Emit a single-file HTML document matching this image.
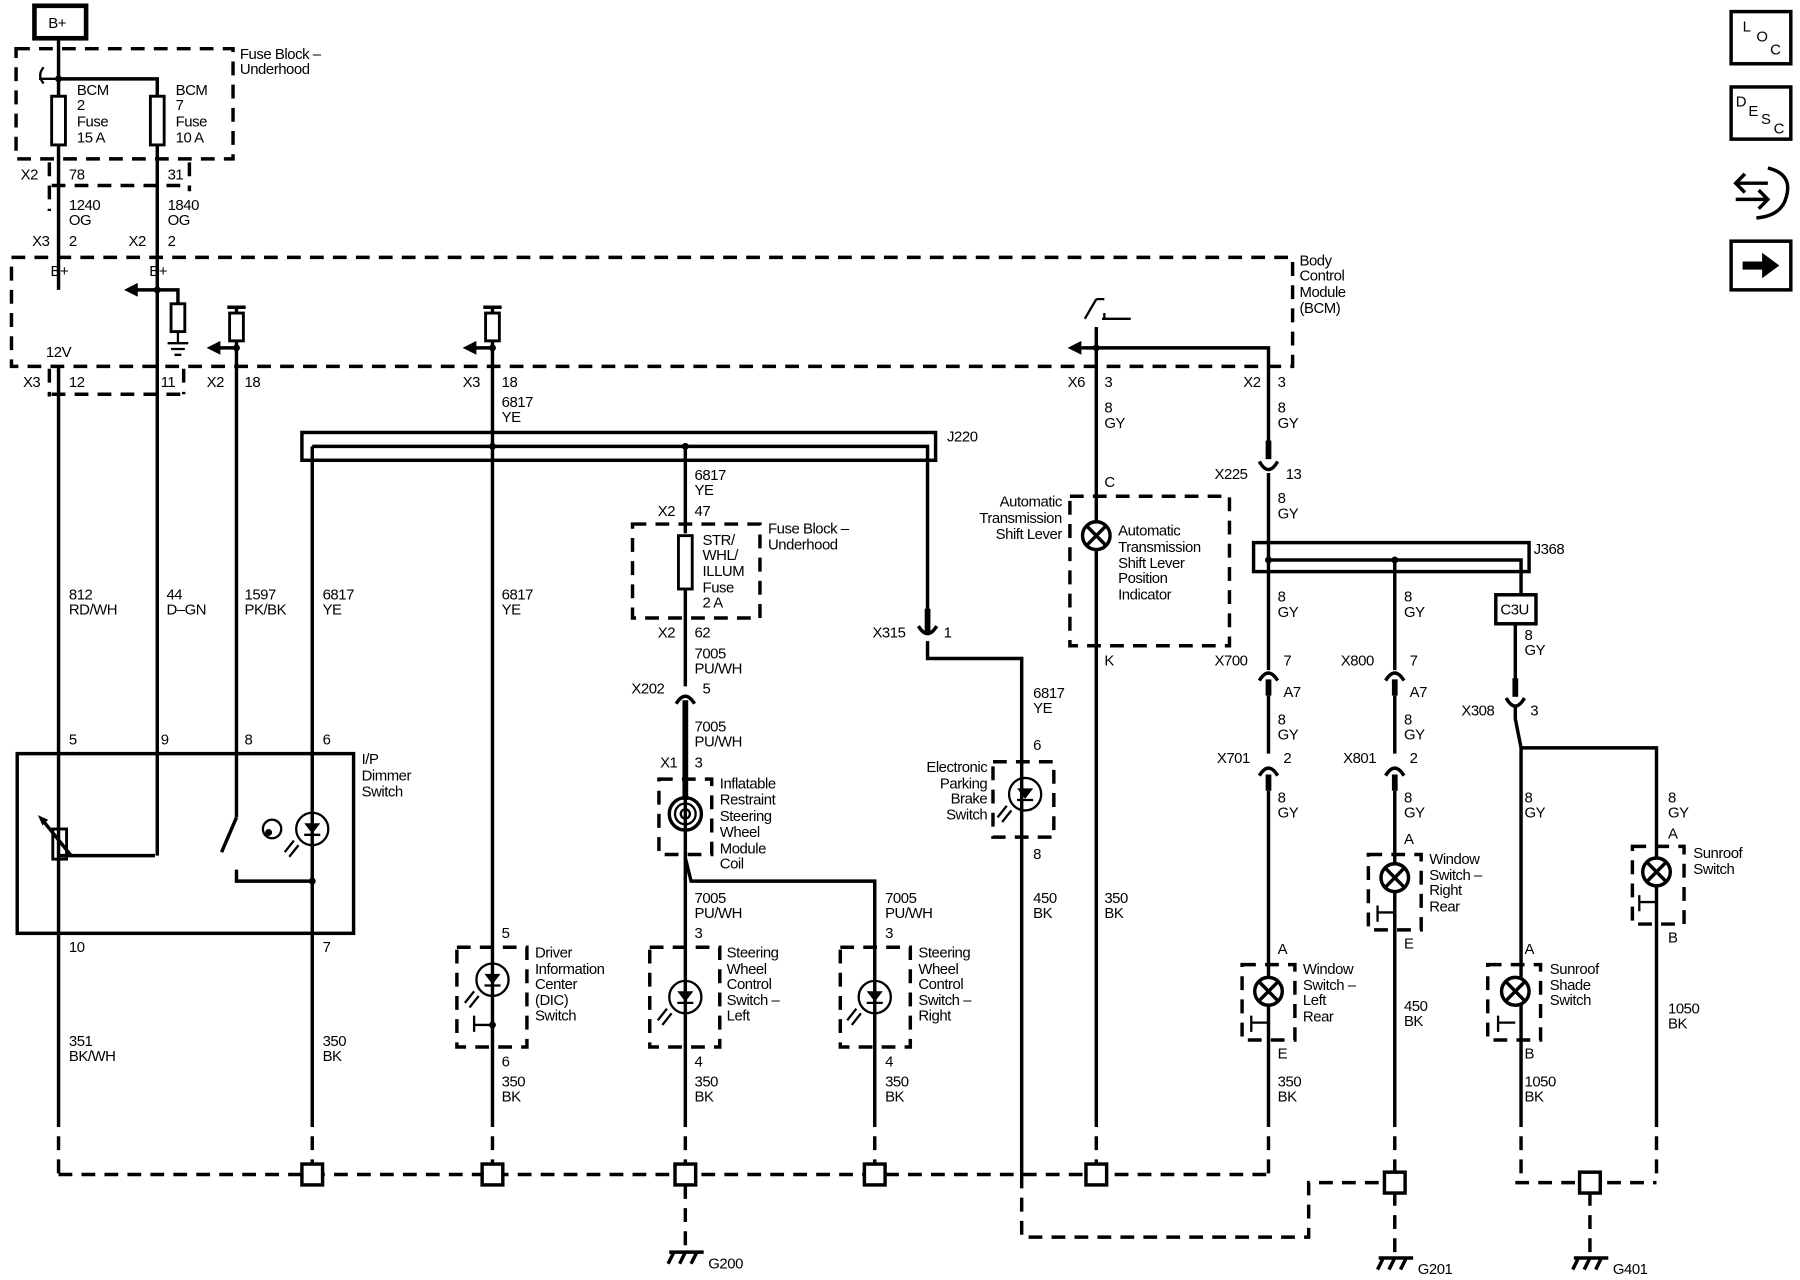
<!DOCTYPE html>
<html><head><meta charset="utf-8"><style>
html,body{margin:0;padding:0;background:#fff;}
svg{display:block;}
text{font-family:"Liberation Sans",sans-serif;font-size:13px;fill:#000;letter-spacing:-0.4px;}
.w{stroke:#000;stroke-width:3;fill:none;}
.d{stroke:#000;stroke-width:3;fill:none;stroke-dasharray:12 8;}
.t{stroke:#000;stroke-width:2;fill:none;}
.f{fill:#fff;stroke:#000;stroke-width:2.5;}
</style></head><body>
<svg width="1800" height="1280" viewBox="0 0 1568 1104" preserveAspectRatio="none" xmlns="http://www.w3.org/2000/svg">
<defs>
<g id="led"><circle cx="0" cy="0" r="14" class="t" stroke-width="3"/><path d="M-7,-5 L7,-5 L0,4 Z" fill="#000"/><path d="M-7,5 H7" class="t"/><path d="M-16,10 L-24,20 M-12,14 L-20,24" class="t" stroke-width="1.5"/></g>
<g id="lamp"><circle cx="0" cy="0" r="12" fill="#fff" stroke="#000" stroke-width="3"/><path d="M-8,-8 L8,8 M8,-8 L-8,8" class="w"/></g>
<g id="gnd"><path d="M-14,0 H16 M-10,0 L-15,10 M0,0 L-5,10 M10,0 L5,10" class="w"/></g>
</defs>

<!-- B+ -->
<rect x="30" y="5" width="45" height="28" fill="#fff" stroke="#000" stroke-width="4"/>
<text x="42" y="24">B+</text>

<!-- Fuse block underhood -->
<rect x="14" y="42" width="189" height="95" class="d"/>
<text x="209" y="51">Fuse Block –</text><text x="209" y="64">Underhood</text>
<path d="M51,33 V250 M51,68 H137 V250" class="w"/>
<circle cx="51" cy="68" r="3"/>
<path d="M38,58 Q32,65 38,72 M34,68 H51" class="t"/>
<rect x="45" y="83" width="12" height="42" class="f"/>
<rect x="131" y="83" width="12" height="42" class="f"/>
<text x="67" y="82">BCM</text><text x="67" y="95">2</text><text x="67" y="109">Fuse</text><text x="67" y="123">15 A</text>
<text x="153" y="82">BCM</text><text x="153" y="95">7</text><text x="153" y="109">Fuse</text><text x="153" y="123">10 A</text>
<path d="M43,140 V182 M45,160 H165 M165,140 V165" class="d" stroke-dasharray="6 5"/>
<text x="18" y="155">X2</text><text x="60" y="155">78</text><text x="146" y="155">31</text>
<text x="60" y="181">1240</text><text x="60" y="194">OG</text>
<text x="146" y="181">1840</text><text x="146" y="194">OG</text>
<text x="28" y="212">X3</text><text x="60" y="212">2</text><text x="112" y="212">X2</text><text x="146" y="212">2</text>

<!-- BCM -->
<rect x="10" y="222" width="1116" height="94" class="d"/>
<text x="1132" y="229">Body</text><text x="1132" y="242">Control</text><text x="1132" y="256">Module</text><text x="1132" y="270">(BCM)</text>
<text x="44" y="238">B+</text><text x="130" y="238">B+</text>
<text x="40" y="308">12V</text>
<path d="M137,250 V738" class="w"/>
<path d="M137,250 H118 M137,250 H155 V262" class="w"/><path d="M108,250 L120,244 L120,256 Z"/>
<circle cx="137" cy="250" r="3"/>
<rect x="149" y="262" width="12" height="24" class="f"/>
<path d="M155,286 V296 M146,296 H164 M149,301 H161 M152,306 H158" class="t"/>
<!-- 206 -->
<path d="M198,265 H214 M206,265 V705" class="w"/>
<rect x="200" y="270" width="12" height="24" class="f"/>
<path d="M206,300 H190" class="w"/><path d="M180,300 L192,294 L192,306 Z"/><circle cx="206" cy="300" r="3"/>
<!-- 429 -->
<path d="M421,265 H437 M429,265 V1013" class="w"/>
<rect x="423" y="270" width="12" height="24" class="f"/>
<path d="M429,300 H413" class="w"/><path d="M403,300 L415,294 L415,306 Z"/><circle cx="429" cy="300" r="3"/>
<!-- 955 / 1105 -->
<path d="M955,258 L945,275 M955,258 H962 M962,275 V270 M960,275 H985" class="t"/>
<path d="M955,282 V1013 M955,300 H942 M955,300 H1105 V395" class="w"/>
<path d="M930,300 L942,294 L942,306 Z"/><circle cx="955" cy="300" r="3"/>

<!-- pin row -->
<path d="M43,318 V342 M45,340 H160 M160,318 V340" class="d" stroke-dasharray="6 5"/>
<path d="M51,316 V650" class="w"/>
<text x="20" y="334">X3</text><text x="60" y="334">12</text><text x="140" y="334">11</text>
<text x="180" y="334">X2</text><text x="213" y="334">18</text>
<text x="403" y="334">X3</text><text x="437" y="334">18</text>
<text x="437" y="351">6817</text><text x="437" y="364">YE</text>
<text x="930" y="334">X6</text><text x="962" y="334">3</text>
<text x="1083" y="334">X2</text><text x="1113" y="334">3</text>
<text x="962" y="356">8</text><text x="962" y="369">GY</text>
<text x="1113" y="356">8</text><text x="1113" y="369">GY</text>

<!-- J220 -->
<rect x="263" y="373" width="552" height="24" class="w"/>
<path d="M272,385 H808 V530 M272,385 V1013 M597,385 V460" class="w"/>
<circle cx="429" cy="385" r="3"/><circle cx="597" cy="385" r="3"/>
<text x="825" y="381">J220</text>

<text x="60" y="517">812</text><text x="60" y="530">RD/WH</text>
<text x="145" y="517">44</text><text x="145" y="530">D–GN</text>
<text x="213" y="517">1597</text><text x="213" y="530">PK/BK</text>
<text x="281" y="517">6817</text><text x="281" y="530">YE</text>
<text x="437" y="517">6817</text><text x="437" y="530">YE</text>

<!-- fuse STR -->
<text x="605" y="414">6817</text><text x="605" y="427">YE</text>
<text x="573" y="445">X2</text><text x="605" y="445">47</text>
<rect x="551" y="452" width="111" height="81" class="d"/>
<rect x="591" y="462" width="12" height="46" class="f"/>
<text x="612" y="470">STR/</text><text x="612" y="483">WHL/</text><text x="612" y="497">ILLUM</text><text x="612" y="511">Fuse</text><text x="612" y="524">2 A</text>
<text x="669" y="460">Fuse Block –</text><text x="669" y="474">Underhood</text>
<path d="M597,508 V592" class="w"/>
<text x="573" y="550">X2</text><text x="605" y="550">62</text>
<text x="605" y="568">7005</text><text x="605" y="581">PU/WH</text>
<text x="550" y="598">X202</text><text x="612" y="598">5</text>
<path d="M589,607 Q597,594 605,607" class="w"/><path d="M597,604 V690" stroke="#000" stroke-width="5"/>
<text x="605" y="631">7005</text><text x="605" y="644">PU/WH</text>
<text x="575" y="662">X1</text><text x="605" y="662">3</text>
<rect x="574" y="672" width="46" height="65" class="d" stroke-dasharray="9 6"/>
<circle cx="597" cy="702" r="14" class="w"/><circle cx="597" cy="702" r="9" class="t"/><circle cx="597" cy="702" r="4" class="t"/>
<path d="M597,690 V1013 M597,740 L602,760 H762 V1013" class="w"/>
<text x="627" y="680">Inflatable</text><text x="627" y="694">Restraint</text><text x="627" y="708">Steering</text><text x="627" y="722">Wheel</text><text x="627" y="736">Module</text><text x="627" y="749">Coil</text>
<text x="605" y="779">7005</text><text x="605" y="792">PU/WH</text>
<text x="771" y="779">7005</text><text x="771" y="792">PU/WH</text>
<text x="605" y="809">3</text><text x="771" y="809">3</text>
<rect x="566" y="817" width="61" height="86" class="d" stroke-dasharray="9 6"/>
<rect x="732" y="817" width="61" height="86" class="d" stroke-dasharray="9 6"/>
<use href="#led" x="597" y="860"/><use href="#led" x="762" y="860"/>
<text x="633" y="826">Steering</text><text x="633" y="840">Wheel</text><text x="633" y="853">Control</text><text x="633" y="867">Switch –</text><text x="633" y="880">Left</text>
<text x="800" y="826">Steering</text><text x="800" y="840">Wheel</text><text x="800" y="853">Control</text><text x="800" y="867">Switch –</text><text x="800" y="880">Right</text>
<text x="605" y="920">4</text><text x="771" y="920">4</text>
<text x="605" y="937">350</text><text x="605" y="950">BK</text>
<text x="771" y="937">350</text><text x="771" y="950">BK</text>

<!-- DIC -->
<text x="437" y="809">5</text>
<rect x="398" y="817" width="61" height="86" class="d" stroke-dasharray="9 6"/>
<use href="#led" x="429" y="845"/>
<path d="M429,884 H413 M413,876 V890" class="t"/><circle cx="429" cy="884" r="3"/>
<text x="466" y="826">Driver</text><text x="466" y="840">Information</text><text x="466" y="853">Center</text><text x="466" y="867">(DIC)</text><text x="466" y="880">Switch</text>
<text x="437" y="920">6</text><text x="437" y="937">350</text><text x="437" y="950">BK</text>

<!-- dimmer -->
<rect x="15" y="650" width="293" height="155" class="w"/>
<text x="60" y="642">5</text><text x="140" y="642">9</text><text x="213" y="642">8</text><text x="281" y="642">6</text>
<text x="315" y="659">I/P</text><text x="315" y="673">Dimmer</text><text x="315" y="687">Switch</text>
<rect x="46" y="715" width="12" height="26" class="f"/>
<path d="M36,706 L62,738" class="w" stroke-width="2"/><path d="M33,703 L42,707 L37,712 Z"/>
<path d="M51,738 H135" class="w"/>
<path d="M206,705 L193,735 M206,750 V760 H272" class="w"/>
<circle cx="272" cy="760" r="3"/>
<use href="#led" x="272" y="715"/>
<circle cx="237" cy="715" r="8" class="t"/><circle cx="234" cy="718" r="3"/>
<text x="60" y="821">10</text><text x="281" y="821">7</text>
<text x="60" y="902">351</text><text x="60" y="915">BK/WH</text>
<text x="281" y="902">350</text><text x="281" y="915">BK</text>
<path d="M51,650 V1013" class="w"/>

<!-- X315 / EPB -->
<text x="760" y="550">X315</text><text x="822" y="550">1</text>
<path d="M800,540 Q808,553 816,540" class="w"/><path d="M808,525 V545" stroke="#000" stroke-width="5"/>
<path d="M808,553 V568 H890 V1013" class="w"/>
<text x="900" y="602">6817</text><text x="900" y="615">YE</text>
<text x="900" y="647">6</text>
<rect x="865" y="657" width="53" height="65" class="d" stroke-dasharray="9 6"/>
<use href="#led" x="893" y="685"/>
<text x="860" y="666" text-anchor="end">Electronic</text><text x="860" y="680" text-anchor="end">Parking</text><text x="860" y="693" text-anchor="end">Brake</text><text x="860" y="707" text-anchor="end">Switch</text>
<text x="900" y="741">8</text>
<text x="900" y="779">450</text><text x="900" y="792">BK</text>

<!-- Auto trans -->
<text x="962" y="420">C</text>
<rect x="932" y="428" width="139" height="129" class="d"/>
<use href="#lamp" x="955" y="462"/>
<text x="925" y="437" text-anchor="end">Automatic</text><text x="925" y="451" text-anchor="end">Transmission</text><text x="925" y="465" text-anchor="end">Shift Lever</text>
<text x="974" y="462">Automatic</text><text x="974" y="476">Transmission</text><text x="974" y="490">Shift Lever</text><text x="974" y="503">Position</text><text x="974" y="517">Indicator</text>
<text x="962" y="574">K</text>
<text x="962" y="779">350</text><text x="962" y="792">BK</text>

<!-- 1105 chain -->
<path d="M1105,380 V396" stroke="#000" stroke-width="5"/>
<path d="M1097,398 Q1105,412 1113,398" class="w"/>
<text x="1058" y="413">X225</text><text x="1120" y="413">13</text>
<text x="1113" y="434">8</text><text x="1113" y="447">GY</text>
<rect x="1092" y="468" width="240" height="25" class="w"/>
<path d="M1105,408 V578 M1105,483 H1325 V513 M1215,483 V578" class="w"/>
<circle cx="1105" cy="483" r="3"/><circle cx="1215" cy="483" r="3"/>
<text x="1336" y="478">J368</text>
<text x="1113" y="519">8</text><text x="1113" y="532">GY</text>
<text x="1223" y="519">8</text><text x="1223" y="532">GY</text>
<rect x="1303" y="513" width="35" height="25" class="w" stroke-width="2.5"/><text x="1307" y="530">C3U</text>
<text x="1328" y="552">8</text><text x="1328" y="565">GY</text>
<text x="1058" y="574">X700</text><text x="1118" y="574">7</text>
<text x="1168" y="574">X800</text><text x="1228" y="574">7</text>
<path d="M1097,587 Q1105,574 1113,587 M1207,587 Q1215,574 1223,587" class="w"/>
<path d="M1105,586 V600 M1215,586 V600" stroke="#000" stroke-width="5"/>
<text x="1118" y="601">A7</text><text x="1228" y="601">A7</text>
<path d="M1105,600 V650 M1215,600 V650" class="w"/>
<text x="1113" y="625">8</text><text x="1113" y="638">GY</text>
<text x="1223" y="625">8</text><text x="1223" y="638">GY</text>
<text x="1060" y="658">X701</text><text x="1118" y="658">2</text>
<text x="1170" y="658">X801</text><text x="1228" y="658">2</text>
<path d="M1097,669 Q1105,656 1113,669 M1207,669 Q1215,656 1223,669" class="w"/>
<path d="M1105,668 V682 M1215,668 V682" stroke="#000" stroke-width="5"/>
<path d="M1105,682 V1013 M1215,682 V1010" class="w"/>
<text x="1113" y="692">8</text><text x="1113" y="705">GY</text>
<text x="1223" y="692">8</text><text x="1223" y="705">GY</text>
<!-- WSLR -->
<text x="1113" y="823">A</text>
<rect x="1082" y="832" width="46" height="65" class="d" stroke-dasharray="9 6"/>
<use href="#lamp" x="1105" y="855"/>
<path d="M1105,882 H1090 M1090,876 V890" class="t"/>
<text x="1135" y="840">Window</text><text x="1135" y="854">Switch –</text><text x="1135" y="867">Left</text><text x="1135" y="881">Rear</text>
<text x="1113" y="913">E</text>
<text x="1113" y="937">350</text><text x="1113" y="950">BK</text>
<!-- WSRR -->
<text x="1223" y="728">A</text>
<rect x="1192" y="737" width="46" height="65" class="d" stroke-dasharray="9 6"/>
<use href="#lamp" x="1215" y="757"/>
<path d="M1215,787 H1200 M1200,781 V795" class="t"/>
<text x="1245" y="745">Window</text><text x="1245" y="759">Switch –</text><text x="1245" y="772">Right</text><text x="1245" y="786">Rear</text>
<text x="1223" y="818">E</text>
<text x="1223" y="872">450</text><text x="1223" y="885">BK</text>
<!-- X308 -->
<path d="M1320,538 V600" class="w"/><path d="M1320,585 V601" stroke="#000" stroke-width="5"/>
<path d="M1312,602 Q1320,616 1328,602" class="w"/>
<text x="1273" y="617">X308</text><text x="1333" y="617">3</text>
<path d="M1320,610 V620 L1325,645 V1013 M1325,645 H1443 V1013" class="w"/>
<text x="1328" y="692">8</text><text x="1328" y="705">GY</text>
<text x="1453" y="692">8</text><text x="1453" y="705">GY</text>
<text x="1328" y="823">A</text>
<rect x="1296" y="832" width="46" height="65" class="d" stroke-dasharray="9 6"/>
<use href="#lamp" x="1320" y="855"/>
<path d="M1320,882 H1305 M1305,876 V890" class="t"/>
<text x="1350" y="840">Sunroof</text><text x="1350" y="854">Shade</text><text x="1350" y="867">Switch</text>
<text x="1328" y="913">B</text>
<text x="1328" y="937">1050</text><text x="1328" y="950">BK</text>
<text x="1453" y="723">A</text>
<rect x="1422" y="730" width="45" height="67" class="d" stroke-dasharray="9 6"/>
<use href="#lamp" x="1443" y="752"/>
<path d="M1443,778 H1428 M1428,772 V786" class="t"/>
<text x="1475" y="740">Sunroof</text><text x="1475" y="754">Switch</text>
<text x="1453" y="813">B</text>
<text x="1453" y="874">1050</text><text x="1453" y="887">BK</text>

<!-- ground buses -->
<path d="M51,960 V1013 M272,960 V1013 M429,960 V1013 M597,960 V1013 M762,960 V1013 M955,960 V1013 M1105,960 V1013 M1215,960 V1010 M1325,960 V1020 M1443,960 V1020" stroke="#fff" stroke-width="5"/>
<path d="M51,960 V1013 M272,960 V1013 M429,960 V1013 M597,960 V1013 M762,960 V1013 M955,960 V1013 M1105,960 V1013 M1215,960 V1010 M1325,960 V1020 M1443,960 V1020" class="d"/>
<path d="M51,1013 H1105" class="d"/>
<path d="M597,1022 V1078" class="d"/>
<use href="#gnd" x="597" y="1080"/><text x="617" y="1094">G200</text>
<path d="M890,1013 V1067 H1140 V1020 H1215" class="d"/>
<path d="M1215,1028 V1082" class="d"/>
<use href="#gnd" x="1215" y="1085"/><text x="1235" y="1099">G201</text>
<path d="M1320,1020 H1443" class="d"/>
<path d="M1385,1028 V1082" class="d"/>
<use href="#gnd" x="1385" y="1085"/><text x="1405" y="1099">G401</text>
<g fill="#fff" stroke="#000" stroke-width="3">
<rect x="263" y="1004" width="18" height="18"/><rect x="420" y="1004" width="18" height="18"/>
<rect x="588" y="1004" width="18" height="18"/><rect x="753" y="1004" width="18" height="18"/>
<rect x="946" y="1004" width="18" height="18"/><rect x="1206" y="1011" width="18" height="18"/>
<rect x="1376" y="1011" width="18" height="18"/>
</g>

<!-- right icons -->
<rect x="1508" y="10" width="52" height="45" class="w" stroke-width="2.5"/>
<text x="1518" y="27">L</text><text x="1530" y="36">O</text><text x="1542" y="47">C</text>
<rect x="1508" y="75" width="52" height="45" class="w" stroke-width="2.5"/>
<text x="1512" y="92">D</text><text x="1523" y="100">E</text><text x="1534" y="107">S</text><text x="1545" y="115">C</text>
<path d="M1512,158 H1540 M1520,150 L1512,158 L1520,166 M1512,172 H1540 M1532,164 L1540,172 L1532,180 M1540,145 Q1562,150 1556,170 Q1552,186 1530,188" class="w"/>
<rect x="1508" y="208" width="52" height="42" class="w" stroke-width="2.5"/>
<path d="M1518,229 H1538" stroke="#000" stroke-width="7"/><path d="M1535,218 L1550,229 L1535,240 Z"/>
</svg>
</body></html>
